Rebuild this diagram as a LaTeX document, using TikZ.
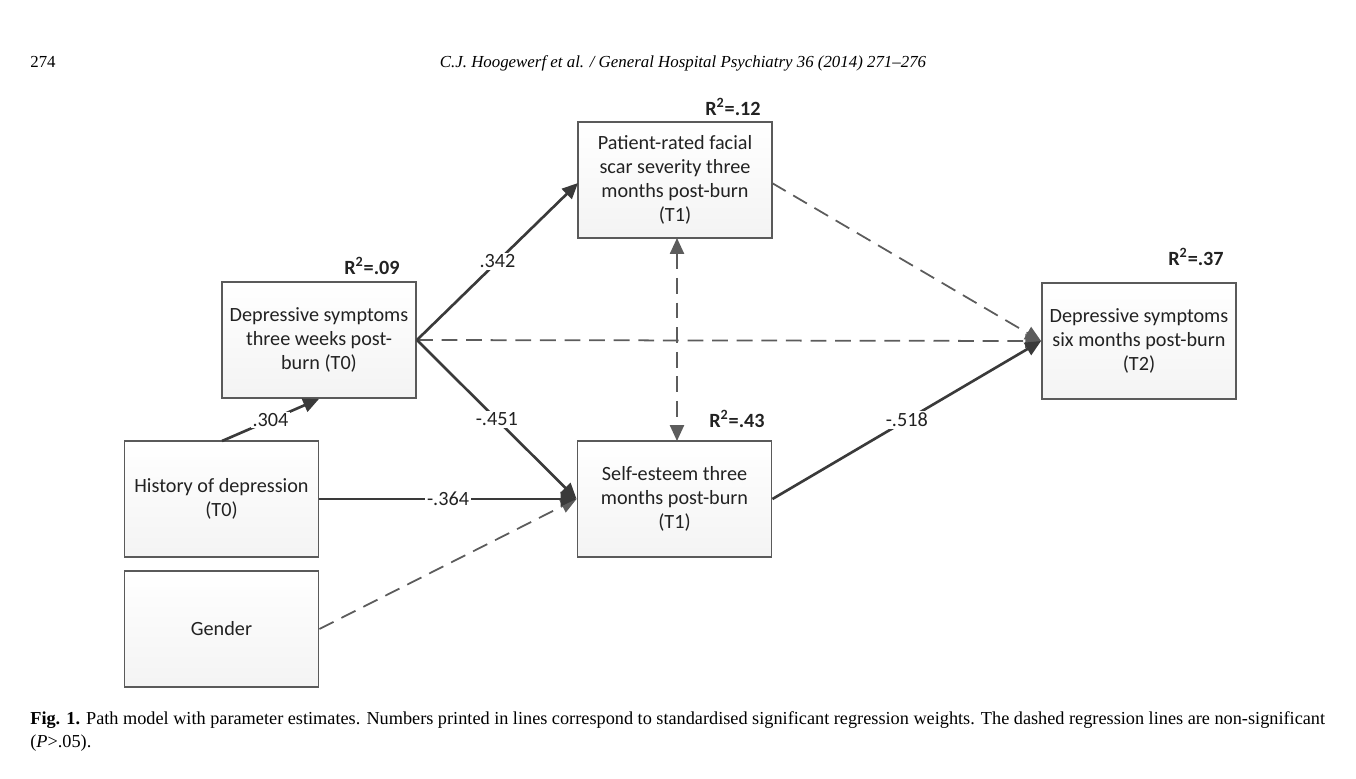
\documentclass[tikz,border=0pt]{standalone}
\usepackage{fontspec}
\setmainfont{Liberation Serif}
\newfontfamily\diagfont{Carlito}
\usetikzlibrary{arrows.meta,shadings}
\definecolor{boxline}{HTML}{5A5A5A}
\definecolor{arrowc}{HTML}{3A3A3A}
\definecolor{dashc}{HTML}{5C5C5C}
\definecolor{txtc}{HTML}{222222}
\tikzset{
  varbox/.style={draw=boxline, line width=1.1pt, top color=white, bottom color=gray!9,
    minimum width=3.88cm, minimum height=2.32cm, align=center,
    font=\diagfont\fontsize{11.5}{13.8}\selectfont, text=txtc, inner sep=0pt},
  sigpath/.style={draw=arrowc, line width=1.5pt, -{Triangle[length=9pt,width=8pt]}},
  nspath/.style={draw=dashc, line width=1pt, dash pattern=on 9pt off 5pt, -{Triangle[length=9pt,width=8pt]}},
  nsboth/.style={draw=dashc, line width=1pt, dash pattern=on 9pt off 5pt, {Triangle[length=9pt,width=8pt]}-{Triangle[length=9pt,width=8pt]}},
  wlabel/.style={fill=white, inner sep=1pt, font=\diagfont\fontsize{11.5}{13}\selectfont, text=txtc},
  rsq/.style={font=\diagfont\bfseries\fontsize{11.5}{13}\selectfont, text=txtc, inner sep=0pt},
  hdr/.style={font=\fontsize{9.6}{11}\selectfont, text=black, inner sep=0pt},
  capt/.style={font=\fontsize{10.4}{12}\selectfont, text=black, inner sep=0pt},
}
\begin{document}
\begin{tikzpicture}[x=0.02cm, y=-0.02cm]
\useasboundingbox (0,0) rectangle (1356,778);

% header
\node[hdr, anchor=base west] (pg) at (30,67) {274};
\node[hdr, anchor=base] (hd) at (683,67) {\itshape C.J. Hoogewerf et al. / General Hospital Psychiatry 36 (2014) 271--276};

% boxes
\node[varbox] (scar) at (675,180) {Patient-rated facial\\scar severity three\\months post-burn\\(T1)};
\node[varbox] (dep0) at (319,340) {Depressive symptoms\\three weeks post-\\burn (T0)};
\node[varbox] (hist) at (221.5,499) {History of depression\\(T0)};
\node[varbox] (gend) at (221.5,629) {Gender};
\node[varbox] (self) at (674.5,499) {Self-esteem three\\months post-burn\\(T1)};
\node[varbox] (dep2) at (1139,341) {Depressive symptoms\\six months post-burn\\(T2)};

% R squared
\node[rsq] (r12) at (733,107) {R\textsuperscript{2}=.12};
\node[rsq] (r09) at (372,266) {R\textsuperscript{2}=.09};
\node[rsq] (r37) at (1196,257) {R\textsuperscript{2}=.37};
\node[rsq] (r43) at (737,419) {R\textsuperscript{2}=.43};

% connection points
\coordinate (histT) at (222,441);
\coordinate (scarL) at (578,183);
\coordinate (scarR) at (772,183);
\coordinate (scarB) at (677,238);
\coordinate (selfT) at (677,441);

% non-significant paths
\draw[nspath] (dep0.east) -- (dep2.west);
\draw[nspath] (scarR) -- (dep2.west);
\draw[nspath] (gend.east) -- (self.west);
\draw[nsboth] (scarB) -- (selfT);

% significant paths
\draw[sigpath] (histT) -- node[wlabel, pos=0.5] (l304) {.304} (dep0.south);
\draw[sigpath] (dep0.east) -- node[wlabel, pos=0.5] (l342) {.342} (scarL);
\draw[sigpath] (dep0.east) -- node[wlabel, pos=0.5] (l451) {-.451} (self.west);
\draw[sigpath] (hist.east) -- node[wlabel, pos=0.5] (l364) {-.364} (self.west);
\draw[sigpath] (self.east) -- node[wlabel, pos=0.5] (l518) {-.518} (dep2.west);

% caption
\node[capt, anchor=base west] (cap1) at (30,724) {\makebox[25.9cm][s]{\textbf{Fig. 1.} Path model with parameter estimates. Numbers printed in lines correspond to standardised significant regression weights. The dashed regression lines are non-significant}};
\node[capt, anchor=base west] (cap2) at (30,747) {(\textit{P}>.05).};
\end{tikzpicture}
\end{document}
